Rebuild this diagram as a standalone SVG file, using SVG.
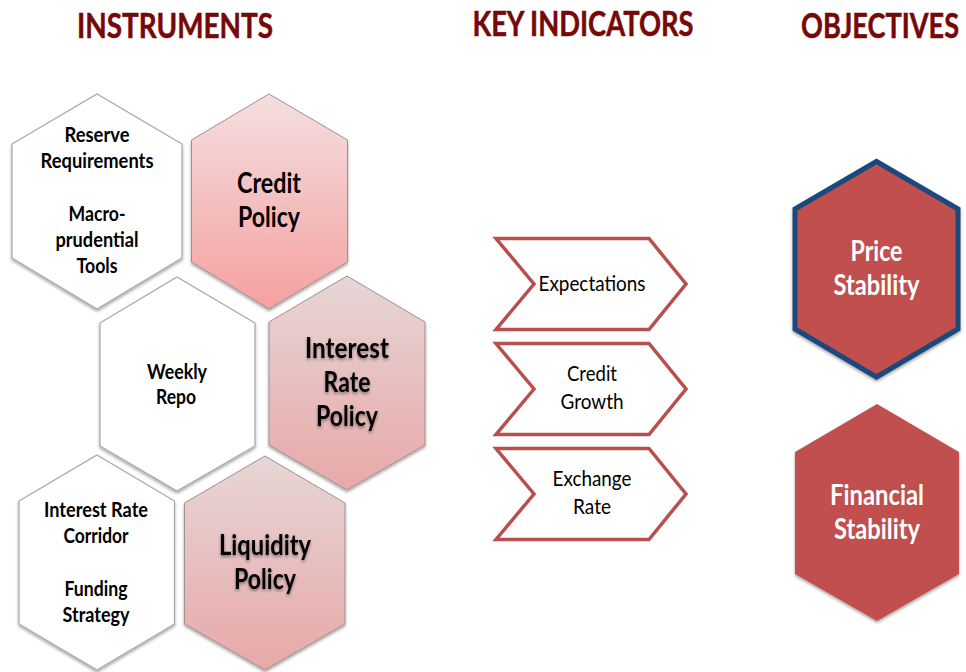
<svg xmlns="http://www.w3.org/2000/svg" width="966" height="672" viewBox="0 0 966 672">
<style>
text{font-family:Lato,"Liberation Sans",sans-serif;text-anchor:middle;fill:#000}
.t{font-size:35px;font-weight:700;fill:#760808;stroke:#760808;stroke-width:.5}
.w{fill:#fff;stroke:#a6a6a6;stroke-width:1.2;filter:url(#s)}
.p{stroke:#a09090;stroke-width:1;filter:url(#s)}
.sm{font-size:20px;font-weight:700}
.lg{font-size:28px;font-weight:700}
.c{fill:#fff;stroke:#b84f4c;stroke-width:3.5}
.k{font-size:22px}
.o{fill:#c0504d;filter:url(#s)}
.ot{font-size:28px;font-weight:700;fill:#fff}
.sh{filter:url(#ts)}
</style>
<defs>
<filter id="s" x="-10%" y="-10%" width="120%" height="120%"><feDropShadow dx="0" dy="2" stdDeviation="1.5" flood-color="#000" flood-opacity=".35"/></filter>
<filter id="ts" x="-10%" y="-10%" width="120%" height="130%"><feDropShadow dx="0" dy="2" stdDeviation="1.5" flood-color="#000" flood-opacity=".4"/></filter>
<linearGradient id="g1" x1="0" y1="0" x2="0" y2="1"><stop offset="0" stop-color="#f5dfe0"/><stop offset="1" stop-color="#f5a0a0"/></linearGradient>
<linearGradient id="g2" x1="0" y1="0" x2="0" y2="1"><stop offset="0" stop-color="#e7d6d6"/><stop offset="1" stop-color="#e8a8a8"/></linearGradient>
</defs>
<g id="title-instruments"><text class="t" transform="translate(175,38) scale(.76,1)" textLength="258" lengthAdjust="spacingAndGlyphs">INSTRUMENTS</text></g>
<g id="title-indicators"><text class="t" transform="translate(583,36) scale(.76,1)" textLength="291" lengthAdjust="spacingAndGlyphs">KEY INDICATORS</text></g>
<g id="title-objectives"><text class="t" transform="translate(880,38) scale(.76,1)" textLength="208" lengthAdjust="spacingAndGlyphs">OBJECTIVES</text></g>

<g id="reserve"><polygon class="w" points="97,94 182,144 182,258 97,309 12,258 12,144"/>
<text class="sm" x="97" y="142" textLength="65" lengthAdjust="spacingAndGlyphs">Reserve</text>
<text class="sm" x="97" y="168" textLength="113" lengthAdjust="spacingAndGlyphs">Requirements</text>
<text class="sm" x="97" y="221" textLength="57" lengthAdjust="spacingAndGlyphs">Macro-</text>
<text class="sm" x="97" y="247" textLength="83" lengthAdjust="spacingAndGlyphs">prudential</text>
<text class="sm" x="97" y="273" textLength="41" lengthAdjust="spacingAndGlyphs">Tools</text></g>

<g id="credit"><polygon class="p" fill="url(#g1)" points="269,94 347.5,140 347.5,262 269,309 191.5,262 191.5,140"/>
<text class="lg" x="269" y="193" textLength="64" lengthAdjust="spacingAndGlyphs">Credit</text>
<text class="lg" x="269" y="227" textLength="62" lengthAdjust="spacingAndGlyphs">Policy</text></g>

<g id="weekly"><polygon class="w" points="177,277 255,323 255,446 177,491 100,446 100,323"/>
<text class="sm" x="177" y="379" textLength="60" lengthAdjust="spacingAndGlyphs">Weekly</text>
<text class="sm" x="176" y="404" textLength="40" lengthAdjust="spacingAndGlyphs">Repo</text></g>

<g id="interest"><polygon class="p" fill="url(#g2)" points="347,276 425,322 425,445 347,490 269,445 269,322"/>
<g class="sh"><text class="lg" x="347" y="358" textLength="84" lengthAdjust="spacingAndGlyphs">Interest</text>
<text class="lg" x="347" y="392" textLength="47" lengthAdjust="spacingAndGlyphs">Rate</text>
<text class="lg" x="347" y="426" textLength="62" lengthAdjust="spacingAndGlyphs">Policy</text></g></g>

<g id="corridor"><polygon class="w" points="97,455 174.5,501 174.5,624 97,670 19,624 19,501"/>
<text class="sm" x="96" y="517" textLength="104" lengthAdjust="spacingAndGlyphs">Interest Rate</text>
<text class="sm" x="96" y="543" textLength="65" lengthAdjust="spacingAndGlyphs">Corridor</text>
<text class="sm" x="96" y="596" textLength="63" lengthAdjust="spacingAndGlyphs">Funding</text>
<text class="sm" x="96" y="622" textLength="67" lengthAdjust="spacingAndGlyphs">Strategy</text></g>

<g id="liquidity"><polygon class="p" fill="url(#g2)" points="265,456 345,503 345,624 265,670 184.5,624 184.5,503"/>
<g class="sh"><text class="lg" x="265" y="555" textLength="92" lengthAdjust="spacingAndGlyphs">Liquidity</text>
<text class="lg" x="265" y="589" textLength="62" lengthAdjust="spacingAndGlyphs">Policy</text></g></g>

<g id="expectations"><polygon class="c" points="496,238.500 649,238.500 686,284 649,329.500 496,329.500 534,284"/>
<text class="k" x="592" y="291" textLength="107" lengthAdjust="spacingAndGlyphs">Expectations</text></g>
<g id="credit-growth"><polygon class="c" points="496,343.500 649,343.500 686,389 649,434.500 496,434.500 534,389"/>
<text class="k" x="592" y="381" textLength="50" lengthAdjust="spacingAndGlyphs">Credit</text>
<text class="k" x="592" y="409" textLength="63" lengthAdjust="spacingAndGlyphs">Growth</text></g>
<g id="exchange-rate"><polygon class="c" points="496,448.500 649,448.500 686,494 649,539.500 496,539.500 534,494"/>
<text class="k" x="592" y="486" textLength="79" lengthAdjust="spacingAndGlyphs">Exchange</text>
<text class="k" x="592" y="514" textLength="38" lengthAdjust="spacingAndGlyphs">Rate</text></g>

<g id="price-stability"><polygon class="o" stroke="#1f497d" stroke-width="5" stroke-linejoin="miter" points="876.500,161.500 958,209 958,329 876.500,377 795,329 795,209"/>
<text class="ot" x="876.500" y="261" textLength="52" lengthAdjust="spacingAndGlyphs">Price</text>
<text class="ot" x="876.500" y="295" textLength="86" lengthAdjust="spacingAndGlyphs">Stability</text></g>
<g id="financial-stability"><polygon class="o" points="877,404 959,452 959,574 877,621 795,574 795,452"/>
<text class="ot" x="877" y="505" textLength="94" lengthAdjust="spacingAndGlyphs">Financial</text>
<text class="ot" x="877" y="539" textLength="86" lengthAdjust="spacingAndGlyphs">Stability</text></g>
</svg>
